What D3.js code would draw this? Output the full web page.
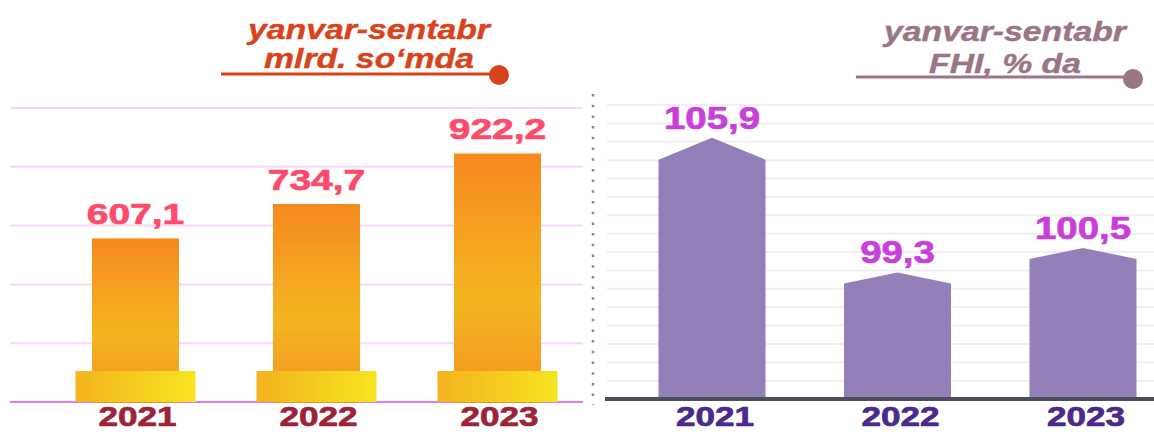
<!DOCTYPE html>
<html><head><meta charset="utf-8">
<script src="https://cdn.jsdelivr.net/npm/d3@7"></script>
<style>
html,body{margin:0;padding:0;background:#fff;}
svg{display:block;}
text{font-family:"Liberation Sans",Arial,sans-serif;font-weight:bold;}
</style></head>
<body>
<svg id="chart" width="1154" height="432"></svg>
<script>
// ---- data ----
const years = ["2021", "2022", "2023"];
const volumeValues = [607.1, 734.7, 922.2];          // mlrd. so'm
const volumeLabels = ["607,1", "734,7", "922,2"];
const indexValues = [105.9, 99.3, 100.5];            // % of previous year
const indexLabels = ["105,9", "99,3", "100,5"];
const leftTitle = ["yanvar-sentabr", "mlrd. so‘mda"];
const rightTitle = ["yanvar-sentabr", "FHI, % da"];

// ---- styles ----
const roofHeight = [22, 11, 11];
const svg = d3.select("#chart");
const defs = svg.append("defs");

const gBar = defs.append("linearGradient").attr("id", "barGrad")
  .attr("x1", 0).attr("y1", 0).attr("x2", 0).attr("y2", 1);
gBar.append("stop").attr("offset", "0%").attr("stop-color", "#f6891f");
gBar.append("stop").attr("offset", "58%").attr("stop-color", "#f4b520");
gBar.append("stop").attr("offset", "100%").attr("stop-color", "#f39322");

const gBase = defs.append("linearGradient").attr("id", "baseGrad")
  .attr("x1", 0).attr("y1", 0).attr("x2", 1).attr("y2", 0);
gBase.append("stop").attr("offset", "0%").attr("stop-color", "#f4b31f");
gBase.append("stop").attr("offset", "100%").attr("stop-color", "#f6e41f");

function stretchText(parent, x, y, str, size, sx, color, italic, heavy) {
  const t = parent.append("text")
    .attr("transform", `translate(${x},${y}) scale(${sx},1)`)
    .attr("text-anchor", "middle")
    .attr("font-size", size)
    .attr("font-style", italic ? "italic" : "normal")
    .attr("fill", color)
    .text(str);
  if (heavy) t.attr("stroke", color).attr("stroke-width", heavy).attr("stroke-linejoin", "round");
  return t;
}

// ================= LEFT CHART =================
const L = svg.append("g");
const xL = d3.scalePoint().domain(years).range([135.5, 497.5]);
const yL = d3.scaleLinear().domain([0, 1091]).range([402, 108]);
const gridL = d3.scaleLinear().domain([0, 5]).range([402, 108]);

L.selectAll(".gridL").data(d3.range(1, 6)).join("line")
  .attr("x1", 10).attr("x2", 583)
  .attr("y1", d => gridL(d)).attr("y2", d => gridL(d))
  .attr("stroke", "#f6d8fa").attr("stroke-width", 2);
L.append("line").attr("x1", 10).attr("x2", 583)
  .attr("y1", yL(0)).attr("y2", yL(0))
  .attr("stroke", "#e07cef").attr("stroke-width", 2);

const barWL = 87, baseW = 120, baseH = 31;
L.selectAll(".barL").data(volumeValues).join("rect")
  .attr("x", (d, i) => xL(years[i]) - barWL / 2)
  .attr("width", barWL)
  .attr("y", d => yL(d))
  .attr("height", d => yL(0) - yL(d) + 1)
  .attr("fill", "url(#barGrad)");
L.selectAll(".baseL").data(volumeValues).join("rect")
  .attr("x", (d, i) => xL(years[i]) - baseW / 2)
  .attr("width", baseW)
  .attr("y", yL(0) - baseH)
  .attr("height", baseH)
  .attr("fill", "url(#baseGrad)");

volumeValues.forEach((v, i) => {
  stretchText(L, xL(years[i]), yL(v) - 14, volumeLabels[i], 30, 1.3, "#fe4a6b", false, 0.7);
  stretchText(L, xL(years[i]) + 2, 426, years[i], 27, 1.3, "#9c2338", false, 0.7);
});

// title left
stretchText(L, 369, 39, leftTitle[0], 27, 1.25, "#d8431b", true, 0.4);
stretchText(L, 369, 68, leftTitle[1], 27, 1.25, "#d8431b", true, 0.4);
L.append("line").attr("x1", 221).attr("x2", 499).attr("y1", 74).attr("y2", 74)
  .attr("stroke", "#d8431b").attr("stroke-width", 3);
L.append("circle").attr("cx", 499).attr("cy", 75).attr("r", 10).attr("fill", "#d8431b");

// separator
svg.append("line").attr("x1", 593).attr("x2", 593).attr("y1", 94).attr("y2", 405)
  .attr("stroke", "#8a8a8a").attr("stroke-width", 2.5)
  .attr("stroke-dasharray", "2.5 8.2");

// ================= RIGHT CHART =================
const R = svg.append("g");
const xR = d3.scalePoint().domain(years).range([712, 1083]);
const yR = d3.scaleLinear().domain([93.2, 107.5]).range([397, 105]);
const gridR = d3.scaleLinear().domain([0, 16]).range([399, 105]);

R.selectAll(".gridR").data(d3.range(1, 17)).join("line")
  .attr("x1", 607).attr("x2", 1154)
  .attr("y1", d => gridR(d)).attr("y2", d => gridR(d))
  .attr("stroke", "#efefef").attr("stroke-width", 2);

const barWR = 107;
R.selectAll(".barR").data(indexValues).join("path")
  .attr("d", (d, i) => {
    const cx = xR(years[i]), top = yR(d), side = top + roofHeight[i];
    const l = cx - barWR / 2, r = cx + barWR / 2, b = yR(93.2);
    return `M${l},${b}L${l},${side}L${cx},${top}L${r},${side}L${r},${b}Z`;
  })
  .attr("fill", "#9480b9");

R.append("line").attr("x1", 605).attr("x2", 1154)
  .attr("y1", 399).attr("y2", 399)
  .attr("stroke", "#4d4f5c").attr("stroke-width", 4);

const yearYR = [426, 426, 426];
indexValues.forEach((v, i) => {
  stretchText(R, xR(years[i]), yR(v) - 9, indexLabels[i], 32, 1.2, "#c840d8", false, 0.7);
  stretchText(R, xR(years[i]) + 3, yearYR[i], years[i], 27, 1.3, "#4a2a8a", false, 0.7);
});

// title right
stretchText(R, 1005, 41, rightTitle[0], 27, 1.25, "#9a7585", true, 0.4);
stretchText(R, 1005, 73, rightTitle[1], 27, 1.25, "#9a7585", true, 0.4);
R.append("line").attr("x1", 856).attr("x2", 1133).attr("y1", 77).attr("y2", 77)
  .attr("stroke", "#9a7585").attr("stroke-width", 3);
R.append("circle").attr("cx", 1133).attr("cy", 79).attr("r", 10).attr("fill", "#9a7585");
</script>
</body></html>
